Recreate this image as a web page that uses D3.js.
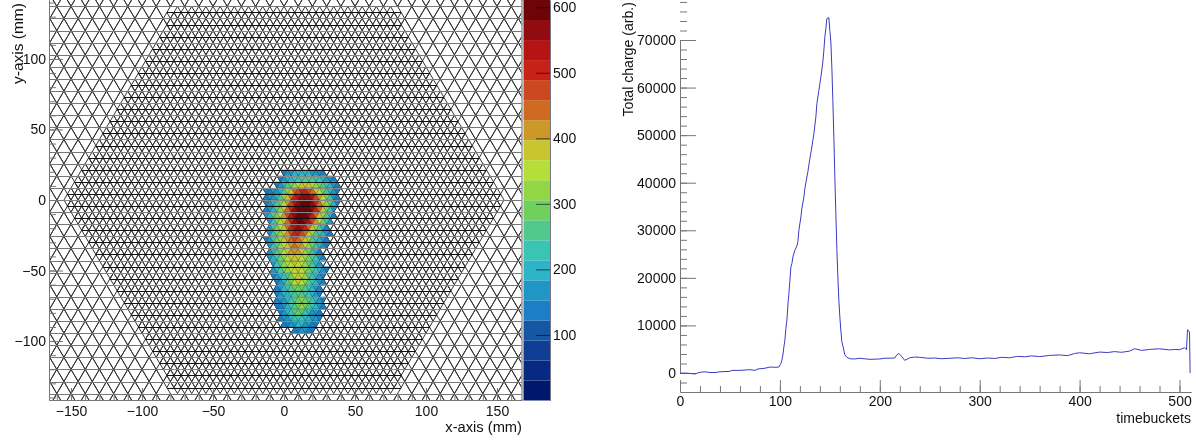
<!DOCTYPE html>
<html><head><meta charset="utf-8">
<script src="https://cdn.jsdelivr.net/npm/d3@7"></script>
<style>
html,body{margin:0;padding:0;background:#fff;overflow:hidden}
svg{display:block;filter:blur(0.4px)}
text{font-family:"Liberation Sans",Arial,sans-serif;font-size:14px;fill:#111}
.axis path,.axis line{stroke:#777;stroke-width:1}
</style></head><body>
<svg id="c" width="1196" height="440"></svg>
<script>
// ---- pad map data (charge per triangular pad, row by row from the top) ----
const padRowStart = [0,-1,-2,-5,-5,-5,-5,-5,-4,-4,-4,-5,-4,-4,-4,-3,-3,-3,-2,-2,-2,-2,-2,-1,-1,0,3];
const padRowValues = [
 [140,170,170,200,200,200,200,200,170,170,170,140],
 [140,170,200,200,230,230,260,260,260,260,230,230,200,170,170,140],
 [140,170,200,260,290,320,350,380,380,380,350,320,290,260,230,200,170,140],
 [140,140,170,170,200,260,320,380,445,475,505,505,475,445,380,350,290,260,200,170,140],
 [140,170,170,200,260,320,380,445,505,535,565,565,565,535,475,410,350,290,230,170,140],
 [140,170,200,260,290,350,410,475,535,565,600,600,600,565,505,445,380,320,260,200,140],
 [140,170,200,260,320,380,445,505,565,600,600,600,600,565,505,445,380,290,230,170],
 [170,200,260,290,350,410,475,535,565,600,600,600,565,505,445,380,320,260,200,140],
 [170,230,290,350,380,445,505,565,600,600,565,535,475,410,350,290,230,170],
 [170,230,290,350,380,445,505,535,565,535,505,445,380,320,260,200,140],
 [170,230,290,320,380,410,475,505,505,475,445,380,320,260,230,200,170,140],
 [140,170,230,290,320,380,410,445,475,445,410,380,320,260,230,200,170,140],
 [170,230,260,320,350,380,410,445,410,410,350,320,290,230,200,170,140],
 [170,200,260,290,350,380,410,410,410,380,320,290,230,200,140],
 [170,200,230,290,320,350,380,380,380,350,320,290,260,230,170,140],
 [170,230,260,320,350,350,380,350,350,320,290,230,200,170],
 [170,200,260,290,320,350,350,380,350,320,290,260,230,200,170,140],
 [140,170,200,230,260,290,350,380,350,320,260,230,200,170,140],
 [140,170,200,260,290,350,380,350,320,260,230,200,170,140],
 [140,170,200,230,260,290,290,290,260,230,200,170,140],
 [140,170,200,200,230,260,260,260,230,230,200,170,140],
 [140,170,170,200,230,260,290,320,290,260,230,200,170,140],
 [140,140,170,200,230,260,290,320,290,260,230,200,170,140],
 [140,170,200,230,260,290,260,230,200,170,170,140],
 [140,170,170,200,230,230,230,200,200,170,170,140],
 [140,140,170,170,200,200,170,170,140,140],
 [140,140,170,170,140,140]
];
const paletteColors = ["#00186c","#062a82","#0d3e93","#1457a5","#1c7fc6","#2096c4","#2cb4c8","#3ac4b4","#52c98c","#6fd05e","#92d646","#b5de38","#c8c52e","#cc9828","#cf6a22","#cc4820","#c82218","#b41414","#900c10","#6e0408"];
const colorTicks = [100,200,300,400,500,600];
const xTicksLeft = [-150,-100,-50,0,50,100,150];
const yTicksLeft = [-100,-50,0,50,100];

// ---- summed charge curve ----
const timebucket = [0,5,10,15,20,25,30,35,40,50,52,60,70,75,78,85,90,95,99,101,102,103,104,105,106,107,108,109,110,111,112,113,115,117,118,119,121,122,124,125,127,128,130,132,134,136,137,139,141,143,144,145,146,147,149,150,151,152,153,154,155,156,157,158,159,160,161,162,164,165,167,170,175,180,190,200,205,215,217,219,221,225,230,235,240,248,255,262,270,278,285,292,300,308,315,322,330,338,345,352,360,370,380,388,395,400,410,420,428,435,442,450,455,462,470,480,490,495,500,505,507,508,510,510.6];
const totalCharge = [-50,0,-100,-200,150,250,100,100,250,350,550,550,700,550,850,1000,1250,1200,1250,2000,2700,3800,5500,6900,9400,11100,14300,16700,19500,22300,23000,24400,25800,26700,27600,30000,32800,34600,37000,38800,41200,42300,45100,47500,50300,53800,56600,59400,62200,65400,67800,70600,72400,74500,74700,72000,69600,64300,57300,49600,41200,33500,26200,20200,15300,11800,9000,6600,4800,3800,3300,3000,2950,3100,2870,2950,3100,3150,3800,4100,3700,2650,3200,3350,3300,3100,3150,3000,3100,3200,3050,3200,3000,3150,3050,3300,3200,3500,3400,3600,3450,3700,3800,3650,4100,4250,4050,4400,4300,4500,4350,4600,5100,4750,4950,5100,4850,4950,4900,5300,4900,9100,8600,0];
const xTicksRight = [0,100,200,300,400,500];
const yTicksRight = [0,10000,20000,30000,40000,50000,60000,70000];

// ---- mesh description (mm) ----
const fineSide = 5, coarseSide = 10, hexRadius = 156, rowStepFine = 4.29;

const svg = d3.select("#c");
const x = d3.scaleLinear().domain([-165.5,167.6]).range([49,522]);
const y = d3.scaleLinear().domain([-141.8,141.8]).range([400,0]);
const cbY = d3.scaleLinear().domain([0,611]).range([400.5,0]);
const color = d3.scaleQuantize().domain([0,611]).range(paletteColors);
const xR = d3.scaleLinear().domain([0,511.5]).range([680,1191]);
const yR = d3.scaleLinear().domain([0,70000]).range([373,40]);

const defs = svg.append("defs");
defs.append("clipPath").attr("id","plot").append("rect").attr("x",49).attr("y",0).attr("width",473).attr("height",400);

const inHex = (px,py)=>{
  const h = hexRadius*Math.sqrt(3)/2;
  return Math.abs(py)<=h && Math.abs(px)+Math.abs(py)/Math.sqrt(3)<=hexRadius;
};
const g = svg.append("g").attr("clip-path","url(#plot)");

// triangular mesh builders
function meshPath(side,rowStep,keep){
  let diag="",hor={};
  const kMax=Math.ceil(150/rowStep), tMax=Math.ceil(175/(side/2));
  for(let k=-kMax;k<=kMax;k++){
    for(let t=-tMax;t<=tMax;t++){
      const up=((t+k+1)%2+2)%2===0;
      const cx=t*side/2,y0=k*rowStep,y1=(k+1)*rowStep;
      const cy=up?y0+rowStep/3:y1-rowStep/3;
      if(!keep(cx,cy))continue;
      const a=up?[cx-side/2,y0]:[cx-side/2,y1], b=up?[cx+side/2,y0]:[cx+side/2,y1], c=up?[cx,y1]:[cx,y0];
      diag+=`M${x(a[0])},${y(a[1])}L${x(c[0])},${y(c[1])}L${x(b[0])},${y(b[1])}`;
      const hk=up?k:k+1;
      (hor[hk]=hor[hk]||[]).push([a[0],b[0]]);
    }
  }
  return {diag,hor};
}
const coarse=meshPath(coarseSide,rowStepFine*2,(a,b)=>!inHex(a,b));
const fine=meshPath(fineSide,rowStepFine,inHex);
g.append("path").attr("d",coarse.diag).attr("fill","none").attr("stroke","#333").attr("stroke-width",1);
g.append("path").attr("d",fine.diag).attr("fill","none").attr("stroke","#333").attr("stroke-width",1);

// pads
const pads=[];
padRowValues.forEach((vals,r)=>{
  const kLow = 4-r;
  vals.forEach((v,i)=>{
    const t = padRowStart[r]+i;
    pads.push({t,k:kLow,v,up:((t+kLow+1)%2+2)%2===0});
  });
});
g.selectAll("path.pad").data(pads).join("path").attr("class","pad")
  .attr("fill",d=>color(d.v)).attr("stroke","#000").attr("stroke-opacity",0.18).attr("stroke-width",0.6)
  .attr("d",d=>{
    const cx=d.t*fineSide/2, y0=d.k*rowStepFine, y1=(d.k+1)*rowStepFine;
    const pts=d.up?[[cx-fineSide/2,y0],[cx+fineSide/2,y0],[cx,y1]]:[[cx-fineSide/2,y1],[cx+fineSide/2,y1],[cx,y0]];
    return "M"+pts.map(p=>x(p[0])+","+y(p[1])).join("L")+"Z";
  });

function horLines(h,styleFn){
  Object.entries(h).forEach(([k,segs])=>{
    const s=styleFn(+k);
    g.append("path").attr("fill","none").attr("stroke",s[0]).attr("stroke-width",s[1])
     .attr("d",segs.map(q=>`M${x(q[0])},${Math.round(y(k*(s[2])))+.5}H${x(q[1])}`).join(""));
  });
}
horLines(coarse.hor,k=>["#777",1,rowStepFine*2]);
horLines(fine.hor,k=>(k%2)?["#111",1,rowStepFine]:["#888",1,rowStepFine]);

// left plot axes
const axisG=svg.append("g");
function ax(gen,tr){const a=axisG.append("g").attr("class","axis").attr("transform",tr).call(gen);a.select(".domain").attr("stroke","#888").attr("stroke-width",2);return a;}
const minorX=d3.range(-160,170,10), minorY=d3.range(-140,150,10);
ax(d3.axisBottom(x).tickValues(minorX).tickSize(-6).tickSizeOuter(0).tickFormat(""),"translate(0,400)");
ax(d3.axisBottom(x).tickValues(xTicksLeft).tickSize(-12).tickPadding(0).tickSizeOuter(0).tickFormat(d3.format("d")),"translate(0,400)")
  .selectAll("text").attr("dy","0").attr("dominant-baseline","hanging").attr("y",6);
ax(d3.axisLeft(y).tickValues(minorY).tickSize(-7).tickSizeOuter(0).tickFormat(""),"translate(49,0)");
ax(d3.axisLeft(y).tickValues(yTicksLeft).tickSize(-14).tickSizeOuter(0).tickPadding(3).tickFormat(d3.format("d")),"translate(49,0)");
axisG.append("line").attr("x1",522).attr("x2",522).attr("y1",0).attr("y2",400).attr("stroke","#999").attr("stroke-width",1.5);

// colour bar
svg.append("g").selectAll("rect").data(paletteColors).join("rect")
  .attr("x",523.5).attr("width",26.5)
  .attr("y",d=>cbY(color.invertExtent(d)[1])).attr("height",d=>cbY(color.invertExtent(d)[0])-cbY(color.invertExtent(d)[1]))
  .attr("fill",d=>d);
const cbAxis=svg.append("g").attr("class","cb").attr("transform","translate(550,0)").call(
  d3.axisRight(cbY).tickValues(colorTicks).tickSize(-14).tickPadding(3).tickSizeOuter(0));
cbAxis.selectAll("line").attr("stroke","#000").attr("stroke-opacity",0.6);
cbAxis.select(".domain").attr("stroke","#778").attr("stroke-width",1);

svg.append("text").attr("x",522).attr("y",432).attr("text-anchor","end").style("font-size","14.7px").text("x-axis (mm)");
svg.append("text").attr("transform","translate(23,84) rotate(-90)").style("font-size","15.5px").text("y-axis (mm)");

// right plot
const minorXR=d3.range(0,512,20), minorYR=d3.range(-2000,78001,2000);
ax(d3.axisBottom(xR).tickValues(minorXR).tickSize(-6).tickSizeOuter(0).tickFormat(""),"translate(0,392)");
ax(d3.axisBottom(xR).tickValues(xTicksRight).tickSize(-12).tickSizeOuter(0).tickFormat(d3.format("d")),"translate(0,392)")
  .selectAll("text").attr("dominant-baseline","hanging").attr("dy","0").attr("y",4);
ax(d3.axisLeft(yR).tickValues(minorYR).tickSize(-7).tickSizeOuter(0).tickFormat(""),"translate(680,0)");
ax(d3.axisLeft(yR).tickValues(yTicksRight).tickSize(-16).tickSizeOuter(0).tickPadding(4).tickFormat(d3.format("d")),"translate(680,0)");

const line=d3.line().x(d=>xR(d[0])).y(d=>yR(d[1])).curve(d3.curveLinear);
svg.append("path").datum(timebucket.map((b,i)=>[b,totalCharge[i]]))
  .attr("fill","none").attr("stroke","#3a3ac4").attr("stroke-width",1).attr("d",line);

svg.append("text").attr("x",1191).attr("y",423).attr("text-anchor","end").text("timebuckets");
svg.append("text").attr("transform","translate(633,116.5) rotate(-90)").style("font-size","14.1px").text("Total charge (arb.)");
</script>
</body></html>
